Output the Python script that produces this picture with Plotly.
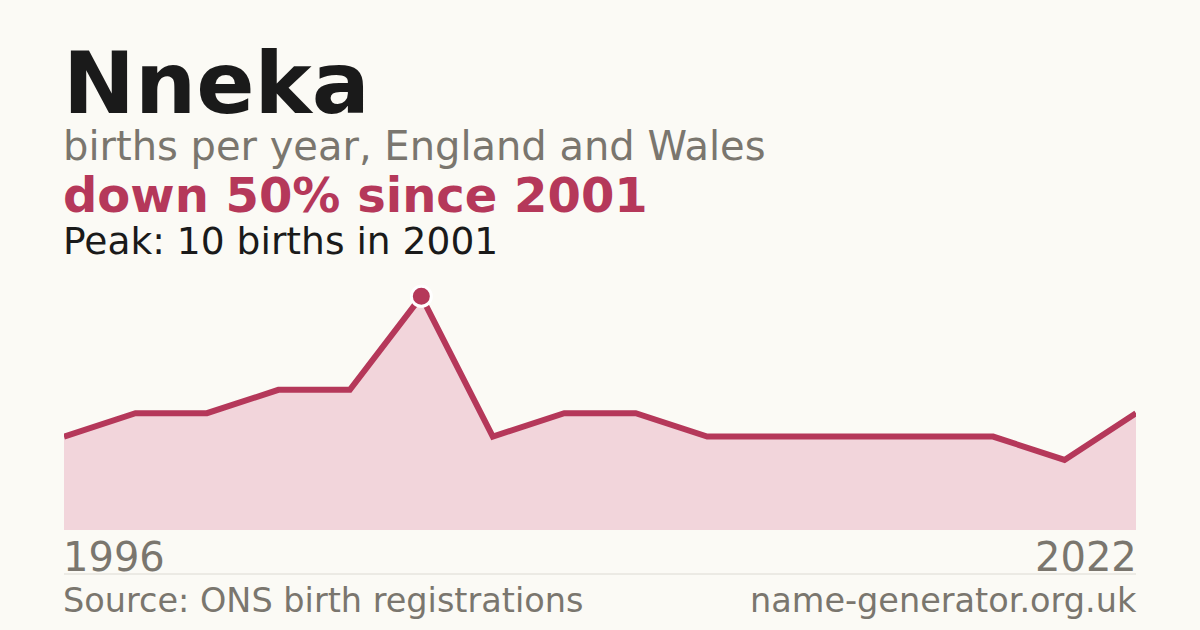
import plotly.graph_objects as go

# births per year for the name (years with too few births are not published)
years = [1996, 1997, 1998, 1999, 2000, 2001, 2003, 2005, 2007, 2009,
         2011, 2013, 2015, 2017, 2020, 2022]
births = [4, 5, 5, 6, 6, 10, 4, 5, 5, 4, 4, 4, 4, 4, 3, 5]

name = "Nneka"
subtitle = "births per year, England and Wales"
source = "Source: ONS birth registrations"
site = "name-generator.org.uk"

RED = "#b5385a"
FILL = "#f2d5db"
BG = "#fbfaf5"
GREY = "#7a766e"
INK = "#1a1a1a"
FONT = "DejaVu Sans"

peak = max(births)
peak_i = births.index(peak)
peak_year = years[peak_i]
change = round((births[-1] - peak) / peak * 100)
headline = f"{'down' if change < 0 else 'up'} {abs(change)}% since {peak_year}"

xcat = [str(y) for y in years]

# plot area: 64px..1136px wide, 280px..530px tall
LEFT, RIGHT = 64, 1136
TOP, BOTTOM = 280, 530
NUDGE = 3 / (RIGHT - LEFT)  # annotation box padding


def py(px):
    # pixel row -> paper y
    return (BOTTOM - px) / (BOTTOM - TOP)


fig = go.Figure()
fig.add_trace(go.Scatter(
    x=xcat, y=births, mode="lines",
    line=dict(color=RED, width=6),
    fill="tozeroy", fillcolor=FILL,
    hoverinfo="skip",
))
fig.add_trace(go.Scatter(
    x=[xcat[peak_i]], y=[peak], mode="markers",
    marker=dict(color=RED, size=20, line=dict(color="white", width=3)),
    cliponaxis=False, hoverinfo="skip",
))

ann = []


def txt(text, ypx, size, color, bold=False, right=False):
    ann.append(dict(
        text=f"<b>{text}</b>" if bold else text,
        xref="paper", yref="paper",
        x=1 + NUDGE if right else -NUDGE, y=py(ypx),
        xanchor="right" if right else "left", yanchor="middle",
        showarrow=False,
        font=dict(family=FONT, size=size, color=color),
    ))


txt(name, 83, 86, INK, bold=True)
txt(subtitle, 146, 40, GREY)
txt(headline, 195, 48, RED, bold=True)
txt(f"Peak: {peak} births in {peak_year}", 241, 37.6, INK)
txt(str(years[0]), 557, 40, GREY)
txt(str(years[-1]), 557, 40, GREY, right=True)
txt(source, 600, 33.5, GREY)
txt(site, 600, 33.5, GREY, right=True)

fig.update_layout(
    width=1200, height=630,
    margin=dict(l=LEFT, r=1200 - RIGHT, t=TOP, b=630 - BOTTOM, pad=0),
    paper_bgcolor=BG, plot_bgcolor=BG,
    showlegend=False,
    annotations=ann,
    shapes=[dict(type="line", xref="paper", yref="paper",
                 x0=0, x1=1, y0=py(574), y1=py(574),
                 line=dict(color="#dcdad3", width=1))],
    xaxis=dict(type="category", range=[0, len(years) - 1], visible=False,
               fixedrange=True),
    yaxis=dict(range=[0, peak * 1.07], visible=False, fixedrange=True),
)

fig.write_html("out.html", config={"displayModeBar": False},
               post_script="document.body.style.margin='0';"
                           "document.body.style.background='%s';" % BG)
